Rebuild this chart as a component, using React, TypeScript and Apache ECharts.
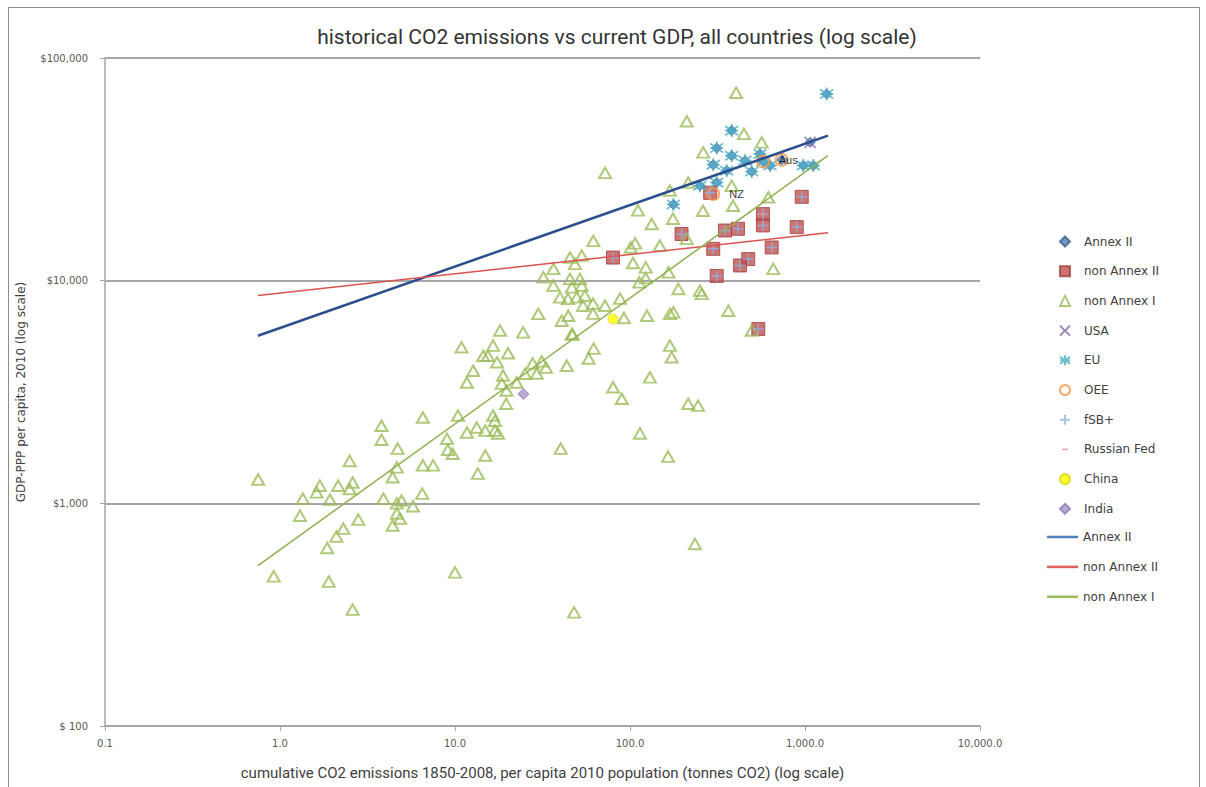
import React, { useEffect, useRef } from 'react';
import * as echarts from 'echarts';

const titleText = 'historical CO2 emissions vs current GDP, all countries (log scale)';
const xAxisName = 'cumulative CO2 emissions 1850-2008, per capita 2010 population (tonnes CO2) (log scale)';
const yAxisName = 'GDP-PPP per capita, 2010 (log scale)';
const xTickLabels = ['0.1', '1.0', '10.0', '100.0', '1,000.0', '10,000.0'];
const yTickLabels = ['$ 100', '$1,000', '$10,000', '$100,000'];

const annexII = [
  [1330, 68900], [381, 47200], [313, 39400], [381, 36400], [299, 33200], [357, 31200],
  [454, 34600], [496, 30900], [553, 37100], [631, 32900], [736, 34900], [1070, 41800],
  [978, 32900], [1115, 32900], [251, 26700], [313, 27600], [177, 22000], [576, 34300],
];
const nonAnnexII = [
  [80, 12700], [197, 16200], [349, 16800], [414, 17100], [575, 19900], [575, 17700],
  [897, 17400], [645, 14100], [299, 13900], [474, 12500], [425, 11700], [313, 10500],
  [541, 6070], [287, 24800], [958, 23800],
];
const nonAnnexI = [
  [0.75, 1280], [0.92, 470], [1.3, 880], [1.35, 1050], [1.62, 1120], [1.69, 1200], [1.93, 1040],
  [1.9, 445], [1.86, 630], [2.1, 710], [2.15, 1200], [2.3, 770], [2.5, 1550], [2.5, 1160],
  [2.6, 333], [2.6, 1240], [2.8, 845], [3.8, 2230], [3.8, 1930], [3.9, 1050], [4.4, 1310],
  [4.4, 795], [4.65, 1450], [4.65, 1000], [4.65, 900], [4.7, 1760], [4.85, 855], [4.95, 1030],
  [5.75, 970], [6.5, 1105], [6.55, 2430], [6.55, 1480], [7.5, 1480], [9.0, 1950], [9.1, 1740],
  [9.7, 1670], [10, 490], [10.4, 2480], [10.9, 5020], [11.7, 3490], [11.7, 2080], [12.7, 3940],
  [13.3, 2190], [13.5, 1360], [14.5, 4600], [15.4, 4600], [14.9, 2120], [14.9, 1640], [16.5, 5110],
  [18.1, 5970], [24.5, 5860], [20.1, 4720], [17.4, 4300], [18.8, 3750], [18.5, 3450], [27.8, 4250],
  [31.3, 4340], [33.1, 4070], [29.3, 3830], [25.1, 3820], [22.5, 3490], [19.7, 3210], [43.5, 4150],
  [47, 5720], [62, 4950], [58, 4470], [19.6, 2800], [16.5, 2480], [16.9, 2350], [16.9, 2120],
  [17.6, 2060], [40.2, 1760], [80, 3320], [89.7, 2950], [130, 3680], [169, 5110], [173, 4530],
  [215, 2800], [245, 2745], [114, 2060], [165, 1620], [47.9, 324], [235, 657],
  [72, 30500], [111, 20700], [61.7, 15100], [45.4, 12700], [53, 12950], [48.5, 11900], [36.5, 11300],
  [32, 10350], [101, 14100], [107, 14700], [104, 12000], [123, 11470], [45.4, 10180], [51.8, 10180],
  [36.5, 9500], [46.5, 9330], [53, 9500], [39.8, 8410], [44.2, 8280], [49.6, 8410], [55.3, 8560],
  [53.9, 7720], [61.5, 7890], [61.5, 7110], [72, 7720], [87.7, 8300], [113, 9830], [123, 10260],
  [125, 6960], [92.4, 6800], [29.9, 7090], [40.7, 6610], [44.4, 6960], [46.5, 5760], [133, 17970],
  [176, 18980], [261, 20600], [388, 21700], [211, 15400], [659, 11290], [148, 14360], [166, 10900],
  [189, 9180], [251, 9020], [257, 8720], [169, 7090], [177, 7200], [365, 7330], [496, 5970],
  [404, 69800], [211, 52000], [448, 45600], [566, 41800], [262, 37700], [215, 27600], [381, 26700],
  [169, 25400], [617, 23700],
];
const usa = [[1070, 41800]];
const eu = [
  [1330, 68900], [381, 47200], [313, 39400], [381, 36400], [299, 33200], [357, 31200],
  [454, 34600], [496, 30900], [553, 37100], [631, 32900], [978, 32900], [1115, 32900],
  [251, 26700], [313, 27600], [177, 22000], [576, 34300],
];
const oee = [[576, 34300], [736, 34900], [299, 24500]];
const oeeLabels = ['', 'Aus', 'NZ'];
const fsbPlus = nonAnnexII;
const russianFed = [[575, 19900]];
const china = [[80, 6730]];
const india = [[24.6, 3100]];
const trendAnnexII = [[0.748, 5660], [1353, 44800]];
const trendNonAnnexII = [[0.748, 8570], [1353, 16430]];
const trendNonAnnexI = [[0.748, 525], [1353, 36400]];

const markerLegendNames = [
  'Annex II', 'non Annex II', 'non Annex I', 'USA', 'EU', 'OEE', 'fSB+', 'Russian Fed', 'China', 'India',
];
const lineLegendNames = ['Annex II ', 'non Annex II ', 'non Annex I '];
const lineLegendColors = ['#4F7FBF', '#E0605C', '#9BBB59'];

const labelDist = [0, -10, 9];

export default function App() {
  const ref = useRef<HTMLDivElement>(null);
  useEffect(() => {
    const chart = echarts.init(ref.current!, null, { renderer: 'svg' });
    const axisGray = '#A6A6A6';
    const legendText = { fontFamily: 'DejaVu Sans', fontSize: 12, color: '#404040' };
    const option: any = {
      animation: false,
      backgroundColor: '#ffffff',
      title: {
        text: titleText,
        left: 612,
        top: 21,
        textAlign: 'center',
        textStyle: { fontFamily: 'Roboto', fontSize: 21, fontWeight: 'normal', color: '#333333' },
      },
      graphic: [
        {
          type: 'rect',
          z: -10,
          shape: { x: 8.5, y: 7.5, width: 1191, height: 820 },
          style: { fill: 'none', stroke: '#8C8C8C', lineWidth: 1 },
        },
      ],
      grid: { left: 105, right: 226, top: 58, bottom: 61, outerBoundsMode: 'none' },
      legend: [
        {
          orient: 'vertical',
          left: 1059,
          top: 235.5,
          padding: 0,
          itemWidth: 10,
          itemHeight: 10,
          itemGap: 17.7,
          data: markerLegendNames.map((n) =>
            n === 'Russian Fed' ? { name: n, icon: 'path://M0,0M10,10M2,4.2L8,4.2L8,5.8L2,5.8Z' } : n
          ),
          textStyle: { ...legendText, padding: [0, 0, 0, 9] },
        },
        {
          orient: 'vertical',
          left: 1047,
          top: 531,
          padding: 0,
          itemWidth: 31,
          itemHeight: 2.5,
          itemGap: 17.9,
          data: lineLegendNames.map((n, i) => ({ name: n, icon: 'rect', itemStyle: { color: lineLegendColors[i] } })),
          textStyle: legendText,
        },
      ],
      xAxis: {
        type: 'log',
        logBase: 10,
        min: 0.1,
        max: 10000,
        name: xAxisName,
        nameLocation: 'middle',
        nameGap: 39,
        nameTextStyle: { fontFamily: 'Roboto', fontSize: 15, color: '#404040' },
        axisLine: { show: true, onZero: false, lineStyle: { color: axisGray, width: 1.5 } },
        axisTick: { show: true, length: 5, lineStyle: { color: axisGray } },
        minorTick: { show: false },
        splitLine: { show: false },
        axisLabel: {
          margin: 12,
          fontFamily: 'DejaVu Sans',
          fontSize: 10,
          color: '#595959',
          formatter: (v: number) => xTickLabels[Math.round(Math.log10(v)) + 1] ?? '',
        },
      },
      yAxis: {
        type: 'log',
        logBase: 10,
        min: 100,
        max: 100000,
        name: yAxisName,
        nameLocation: 'middle',
        nameGap: 78,
        nameTextStyle: { fontFamily: 'DejaVu Sans', fontSize: 12, color: '#404040' },
        axisLine: { show: true, onZero: false, lineStyle: { color: axisGray, width: 1.5 } },
        axisTick: { show: true, length: 5, lineStyle: { color: axisGray } },
        splitLine: { show: true, lineStyle: { color: axisGray, width: 2 } },
        axisLabel: {
          margin: 17,
          fontFamily: 'DejaVu Sans',
          fontSize: 10,
          color: '#595959',
          formatter: (v: number) => yTickLabels[Math.round(Math.log10(v)) - 2] ?? '',
        },
      },
      series: [
        {
          name: 'Annex II', type: 'scatter', symbol: 'diamond', symbolSize: 10, data: annexII,
          itemStyle: { color: '#4F81BD', borderColor: '#385D8A', borderWidth: 1 },
        },
        {
          name: 'non Annex II', type: 'scatter', symbol: 'rect', symbolSize: 13, data: nonAnnexII,
          itemStyle: { color: '#C0504D', borderColor: '#A23F3C', borderWidth: 1 },
        },
        {
          name: 'non Annex I', type: 'scatter', symbol: 'triangle', symbolSize: [12, 10.5], data: nonAnnexI,
          itemStyle: { color: 'rgba(255,255,255,0)', borderColor: '#9BBB59', borderWidth: 2 },
        },
        {
          name: 'USA', type: 'scatter', symbol: 'path://M0,0L10,10M10,0L0,10', symbolSize: 11, data: usa,
          itemStyle: { color: 'rgba(0,0,0,0)', borderColor: '#8064A2', borderWidth: 1.5 },
        },
        {
          name: 'EU', type: 'scatter', symbol: 'path://M5,0L5,10M0,1.5L10,8.5M10,1.5L0,8.5M0,5L10,5',
          symbolSize: 13, data: eu,
          itemStyle: { color: 'rgba(0,0,0,0)', borderColor: '#4BACC6', borderWidth: 1.8 },
        },
        {
          name: 'OEE', type: 'scatter', symbol: 'circle', symbolSize: 12,
          data: oee.map((v, i) => ({
            value: v,
            name: oeeLabels[i],
            label: { show: oeeLabels[i] !== '', distance: labelDist[i] },
          })),
          itemStyle: { color: 'rgba(0,0,0,0)', borderColor: '#F79646', borderWidth: 2 },
          label: {
            show: true, position: 'right', formatter: (p: any) => p.name,
            fontFamily: 'Liberation Sans', fontSize: 11, color: '#000000',
          },
        },
        {
          name: 'fSB+', type: 'scatter', symbol: 'path://M5,0L5,10M0,5L10,5', symbolSize: 11, data: fsbPlus,
          itemStyle: { color: 'rgba(0,0,0,0)', borderColor: '#8EB4E3', borderWidth: 1.5 },
        },
        {
          name: 'Russian Fed', type: 'scatter', symbol: 'rect', symbolSize: [6, 2], data: russianFed,
          itemStyle: { color: '#D99694' },
        },
        {
          name: 'China', type: 'scatter', symbol: 'circle', symbolSize: 10, data: china,
          itemStyle: { color: '#FFFF00', borderColor: '#D8D800', borderWidth: 1 },
        },
        {
          name: 'India', type: 'scatter', symbol: 'diamond', symbolSize: 11, data: india,
          itemStyle: { color: '#A797C9', borderColor: '#8E7CB8', borderWidth: 1 },
        },
        {
          name: 'Annex II ', type: 'line', symbol: 'none', data: trendAnnexII,
          lineStyle: { color: '#2B4F8E', width: 2.5 }, itemStyle: { color: '#2B4F8E' },
        },
        {
          name: 'non Annex II ', type: 'line', symbol: 'none', data: trendNonAnnexII,
          lineStyle: { color: '#D9534F', width: 1.5 }, itemStyle: { color: '#D9534F' },
        },
        {
          name: 'non Annex I ', type: 'line', symbol: 'none', data: trendNonAnnexI,
          lineStyle: { color: '#8EB04F', width: 1.5 }, itemStyle: { color: '#8EB04F' },
        },
      ],
    };
    chart.setOption(option);
    return () => chart.dispose();
  }, []);
  return (
    <div
      ref={ref}
      style={{ position: 'fixed', left: 0, top: 0, width: 1206, height: 787, background: '#ffffff' }}
    />
  );
}
